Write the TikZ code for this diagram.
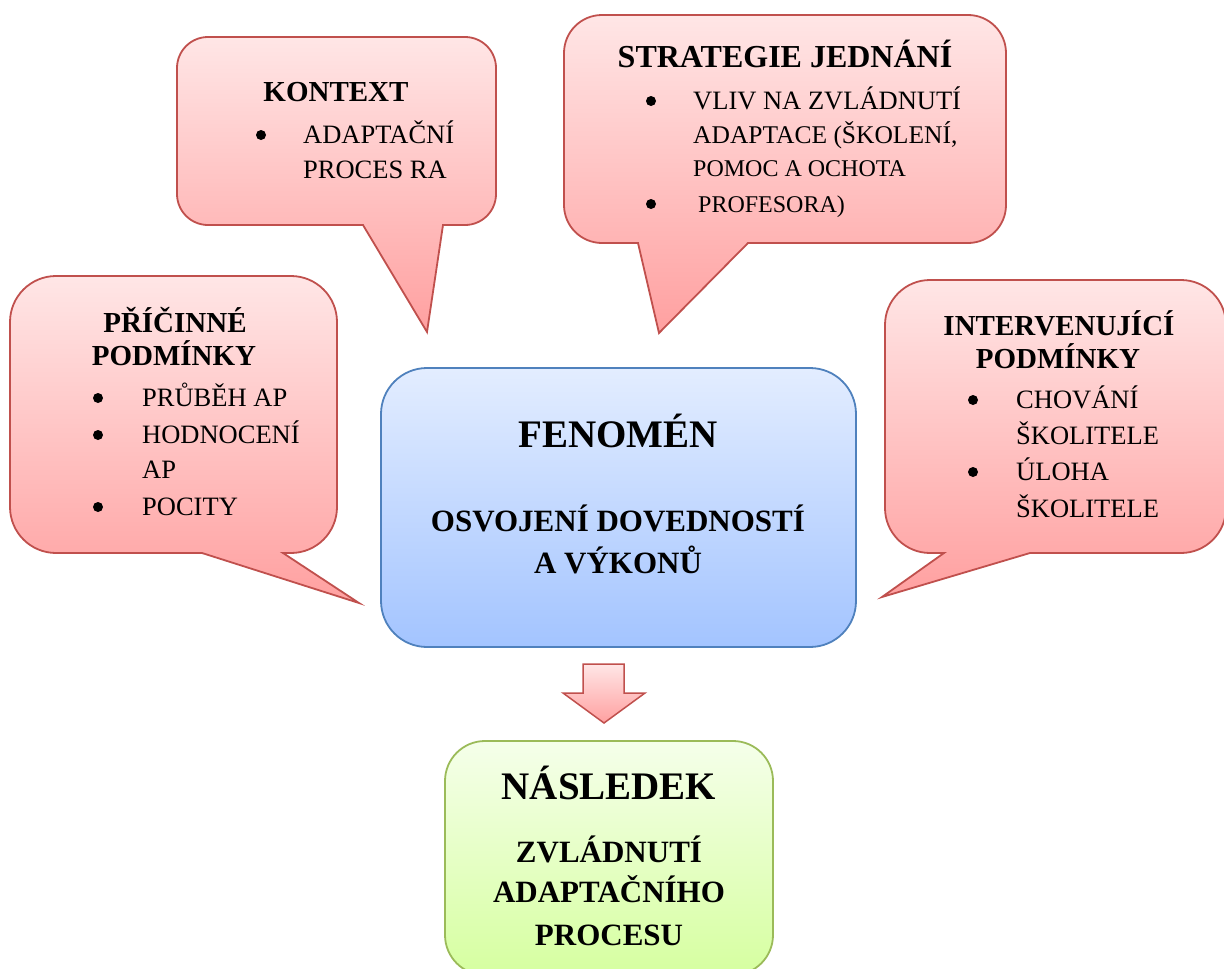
\documentclass[tikz,border=0pt]{standalone}
\usepackage{fontspec}
\setmainfont{Liberation Serif}
\definecolor{redline}{RGB}{192,80,77}
\definecolor{redtop}{RGB}{255,230,230}
\definecolor{redbot}{RGB}{255,160,160}
\definecolor{blueline}{RGB}{79,129,189}
\definecolor{bluetop}{RGB}{227,237,255}
\definecolor{bluebot}{RGB}{163,196,255}
\definecolor{greenline}{RGB}{155,187,89}
\definecolor{greentop}{RGB}{245,255,234}
\definecolor{greenbot}{RGB}{214,255,160}
\tikzset{
  callout/.style={draw=redline, line width=1.8pt, top color=redtop, bottom color=redbot, line join=miter},
  bluebox/.style={draw=blueline, line width=1.8pt, top color=bluetop, bottom color=bluebot},
  greenbox/.style={draw=greenline, line width=1.8pt, top color=greentop, bottom color=greenbot},
  arrowshape/.style={draw=redline, line width=1.5pt, top color=redtop, bottom color=redbot},
  txt/.style={inner sep=0pt, anchor=base},
  btxt/.style={inner sep=0pt, anchor=base west},
  ttl/.style={txt, font=\fontsize{29}{33}\selectfont\bfseries},
  body/.style={btxt, font=\fontsize{26.5}{31}\selectfont},
  bul/.style={circle, fill=black, inner sep=0pt, minimum size=10pt, yshift=8pt},
}
\begin{document}
\begin{tikzpicture}[x=1pt, y=-1pt]
\useasboundingbox (0,0) rectangle (1224,969);
\clip (0,0) rectangle (1224,969);
% KONTEXT callout
\path[callout] (363,225) -- (427,332) -- (443,225) [rounded corners=31pt] -- (496,225) -- (496,37) -- (177,37) -- (177,225) [sharp corners] -- cycle;
% STRATEGIE callout
\path[callout] (638,243) -- (659,333) -- (748,243) [rounded corners=38pt] -- (1006,243) -- (1006,15) -- (564,15) -- (564,243) [sharp corners] -- cycle;
% PRICINNE callout
\path[callout] (202,553) -- (359,603) -- (283,553) [rounded corners=46pt] -- (337,553) -- (337,276) -- (10,276) -- (10,553) [sharp corners] -- cycle;
% INTERVENUJICI callout
\path[callout] (944,553) -- (882,597) -- (1030,553) [rounded corners=45pt] -- (1226,553) -- (1226,280) -- (885,280) -- (885,553) [sharp corners] -- cycle;
% FENOMEN box
\path[bluebox, rounded corners=46pt] (381,368) rectangle (856,647);
% arrow
\path[arrowshape] (583,664) -- (624,664) -- (624,693) -- (645,693) -- (604,723) -- (563,693) -- (583,693) -- cycle;
% NASLEDEK box
\path[greenbox, rounded corners=40pt] (445,741) rectangle (773,975);

% KONTEXT text
\node[ttl] (kt) at (336,101) {KONTEXT};
\node[bul] (kb1) at (261,143) {};
\node[body] (k1) at (303,143) {ADAPTAČNÍ};
\node[body] (k2) at (303,178) {PROCES RA};

% STRATEGIE text
\node[ttl, font=\fontsize{32}{36}\selectfont\bfseries] (st) at (785,67) {STRATEGIE JEDNÁNÍ};
\node[bul] (sb1) at (651,109) {};
\node[body] (s1) at (693,109) {VLIV NA ZVLÁDNUTÍ};
\node[body, font=\fontsize{25.5}{30}\selectfont] (s2) at (693,143) {ADAPTACE (ŠKOLENÍ,};
\node[body, font=\fontsize{24}{28}\selectfont] (s3) at (693,176) {POMOC A OCHOTA};
\node[bul] (sb2) at (651,212) {};
\node[body, font=\fontsize{24}{28}\selectfont] (s4) at (698,212) {PROFESORA)};

% PRICINNE text
\node[ttl] (pt1) at (175,332) {PŘÍČINNÉ};
\node[ttl] (pt2) at (174,365) {PODMÍNKY};
\node[bul] (pb1) at (98,406) {};
\node[body] (p1) at (142,406) {PRŮBĚH AP};
\node[bul] (pb2) at (98,443) {};
\node[body] (p2) at (142,443) {HODNOCENÍ};
\node[body] (p3) at (142,478) {AP};
\node[bul] (pb3) at (98,515) {};
\node[body] (p4) at (142,515) {POCITY};

% INTERVENUJICI text
\node[ttl] (it1) at (1059,335) {INTERVENUJÍCÍ};
\node[ttl] (it2) at (1058,368) {PODMÍNKY};
\node[bul] (ib1) at (973,408) {};
\node[body] (i1) at (1016,408) {CHOVÁNÍ};
\node[body] (i2) at (1016,444) {ŠKOLITELE};
\node[bul] (ib2) at (973,480) {};
\node[body] (i3) at (1016,480) {ÚLOHA};
\node[body] (i4) at (1016,517) {ŠKOLITELE};

% FENOMEN text
\node[txt, font=\fontsize{39}{44}\selectfont\bfseries] (ft) at (618,447) {FENOMÉN};
\node[txt, font=\fontsize{31}{36}\selectfont\bfseries] (f1) at (618,531) {OSVOJENÍ DOVEDNOSTÍ};
\node[txt, font=\fontsize{31}{36}\selectfont\bfseries] (f2) at (618,573) {A VÝKONŮ};

% NASLEDEK text
\node[txt, font=\fontsize{39}{44}\selectfont\bfseries] (nt) at (609,799) {NÁSLEDEK};
\node[txt, font=\fontsize{31}{36}\selectfont\bfseries] (n1) at (609,862) {ZVLÁDNUTÍ};
\node[txt, font=\fontsize{31}{36}\selectfont\bfseries] (n2) at (609,902) {ADAPTAČNÍHO};
\node[txt, font=\fontsize{31}{36}\selectfont\bfseries] (n3) at (609,945) {PROCESU};
\end{tikzpicture}
\end{document}
